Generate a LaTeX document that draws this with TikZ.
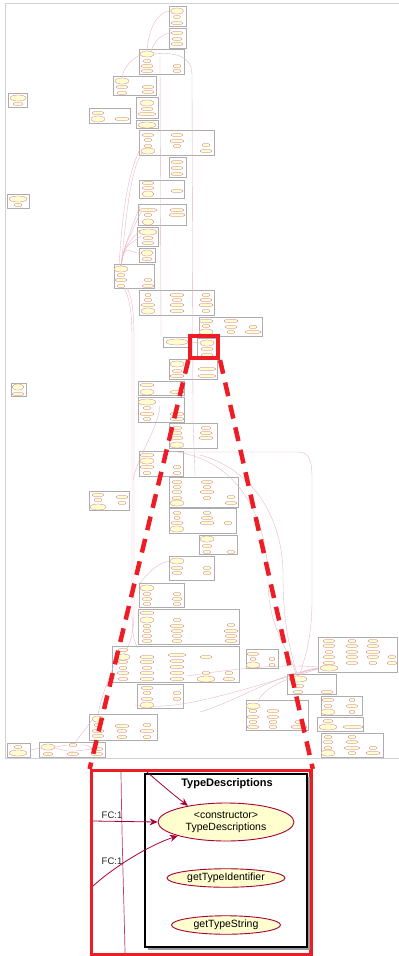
\documentclass[tikz,border=0pt]{standalone}
\usepackage{fontspec}
\setmainfont{Liberation Sans}
\usetikzlibrary{positioning,arrows.meta,shapes.geometric}
\definecolor{umlred}{HTML}{A80036}
\definecolor{umlyel}{HTML}{FEFECE}
\definecolor{zred}{HTML}{EE1C24}
\tikzset{
  sheet/.style={draw=black!18,line width=0.8pt},
  pkg/.style={draw=black!32,line width=0.5pt,fill=white},
  mini/.style={draw=umlred!65,fill=umlyel,line width=0.2pt},
  wire/.style={draw=umlred!30,line width=0.35pt},
  lens/.style={draw=zred,line width=4pt,inner sep=0pt},
  zoomln/.style={draw=zred,line width=4.5pt,dash pattern=on 14pt off 9pt},
  ucase/.style={ellipse,draw=umlred,fill=umlyel,line width=0.9pt,inner sep=0pt,
    align=center,font=\fontsize{10.5}{12.5}\selectfont},
  flow/.style={-{Stealth[length=8pt,width=7pt]},draw=umlred,line width=0.8pt},
  mult/.style={font=\fontsize{9.5}{11}\selectfont,text=black!85},
}
% one small class box of the overview, with its shadow
\newcommand{\pk}[4]{%
  \fill[black!15] (#1+1,#2+1) rectangle (#3+1,#4+1);
  \filldraw[pkg] (#1,#2) rectangle (#3,#4);}

\begin{document}
\begin{tikzpicture}[x=1pt,y=-1pt]
  \useasboundingbox (0,0) rectangle (399,956);

  % ---- overview ----
  \draw[sheet] (402,3) -- (5,3) -- (5,758) -- (402,758);
  \foreach \a/\b/\c/\d in {169/6/186/26, 169/28/186/48, 139/49/184/74, 113/76/156/95,
      136/97/158/118, 89/108/130/123, 136/120/158/128, 139/130/214/155, 169/157/186/177,
      139/180/184/198, 8/93/27/107, 7/194/29/208, 138/204/186/225, 137/227/158/246,
      139/248/155/262, 114/264/154/288, 139/290/214/315, 199/317/262/336, 163/337/188/347,
      197/338/216/358, 169/359/217/379, 138/381/184/395, 138/397/184/422, 169/423/217/448,
      139/451/183/476, 169/477/238/507, 169/508/236/533, 199/535/237/554, 169/556/214/580,
      11/383/26/396, 89/491/129/510, 139/583/184/607, 138/609/239/644, 112/646/239/682,
      137/684/183/708, 89/714/157/740, 39/742/105/757, 7/743/30/757, 318/637/397/672,
      246/649/278/668, 287/674/336/694, 246/700/308/730, 321/696/362/715, 317/717/363/731,
      321/733/383/757}
    \pk{\a}{\b}{\c}{\d};

  \draw[wire] (147,51) .. controls (149,26) and (158,12) .. (170,11);
  \draw[wire] (151,51) .. controls (155,40) and (162,34) .. (170,33);
  \draw[wire] (140,55) .. controls (130,60) and (123,69) .. (122,78);
  \draw[wire] (154,54) .. controls (176,52) and (192,56) .. (192,75) -- (193,420)
    .. controls (194,450) and (195,465) .. (195,477);
  \draw[wire] (160,57) -- (161,337);
  \draw[wire] (188,342) -- (200,343);
  \foreach \tx/\ty in {140/206, 141/212, 140/230, 141/236, 140/254}
    \draw[wire] (121,266) .. controls (124,248) .. (\tx,\ty);
  \draw[wire] (121,266) .. controls (126,220) and (130,170) .. (142,153);
  \draw[wire] (119,266) .. controls (122,220) and (126,180) .. (139,151);
  \draw[wire] (124,288) .. controls (131,300) and (132,320) .. (132,340) -- (132,610)
    .. controls (132,635) and (134,642) .. (138,648);
  \draw[wire] (127,288) .. controls (133,298) and (134,318) .. (134,340) -- (134,612)
    .. controls (134,640) and (127,648) .. (124,654);
  \draw[wire] (133,480) .. controls (140,450) and (158,430) .. (160,405);
  \draw[wire] (140,583) .. controls (150,570) and (160,562) .. (170,561);
  \draw[wire] (180,452) -- (298,452) .. controls (310,452) and (312,462) .. (312,478)
    -- (312,600) .. controls (312,640) and (304,660) .. (300,674);
  \draw[wire] (170,451) .. controls (240,458) and (268,520) .. (268,580)
    .. controls (268,630) and (290,650) .. (296,674);
  \draw[wire] (200,455) .. controls (255,470) and (283,520) .. (283,575)
    .. controls (283,630) and (292,655) .. (297,674);
  \draw[wire] (186,676) .. controls (240,668) and (280,664) .. (318,667);
  \draw[wire] (135,705) .. controls (180,712) and (240,690) .. (318,668);
  \draw[wire] (200,712) .. controls (240,700) and (280,672) .. (318,669);
  \draw[wire] (318,668) .. controls (305,670) .. (298,676);
  \draw[wire] (318,669) .. controls (280,680) and (262,690) .. (258,702);
  \draw[wire] (117,658) .. controls (108,680) and (100,700) .. (98,716);
  \draw[wire] (92,720) .. controls (85,730) and (78,738) .. (75,743);
  \draw[wire] (55,747) -- (67,745);
  \draw[wire] (55,748) .. controls (70,752) .. (91,749);
  \draw[wire] (30,750) -- (41,748);
  \draw[wire] (80,745) .. controls (88,745) .. (91,748);

  \foreach \x/\y/\r in {177/17/3.5, 177/23/6, 177/33/6, 177/39/5, 177/44/6,
      147/61/4, 147/66/6, 147/71/6, 177/66/4, 177/71/4, 122/87/6, 122/93/5, 148/87/6,
      148/92/6, 147/109/6, 147/114/9, 98/113/6, 122/119/7, 148/135/6, 148/140/4,
      148/146/4, 177/135/6, 177/141/7, 177/146/4, 206/145/4, 206/151/6, 177/162/6,
      177/168/6, 177/174/6, 148/183/6, 148/188/6, 177/191/6, 18/104/5, 18/205/4,
      148/210/9, 148/215/4, 177/210/7, 177/215/8, 148/238/5, 148/243/6, 147/259/5,
      121/275/4, 121/280/6, 121/286/4, 148/280/4, 148/286/6, 148/295/3, 148/300/4,
      148/305/7, 177/295/7, 177/300/5, 177/305/7, 177/311/7, 206/295/4, 206/300/6,
      206/305/7, 206/311/4, 206/321/7, 206/326/4, 231/321/7, 231/327/6, 231/332/4,
      253/327/4, 253/332/8, 207/349/6, 207/355/6, 177/371/5, 177/376/7, 207/369/9,
      207/376/9, 147/385/7, 177/392/7, 147/408/4, 147/414/7, 147/419/4, 177/414/7,
      177/419/7, 177/428/5, 177/433/5, 177/438/6, 206/428/5, 206/433/6, 206/438/7,
      147/455/7, 147/467/7, 147/473/4, 177/467/4, 177/473/4, 177/482/5, 177/487/4,
      177/492/5, 177/498/5, 207/482/6, 207/487/4, 207/492/7, 207/498/4, 231/497/4,
      231/503/6, 177/513/4, 177/518/3, 177/523/6, 207/513/4, 207/518/6, 207/523/7,
      228/523/4, 207/546/5, 207/552/4, 231/552/4, 177/568/6, 177/573/5, 207/568/4,
      207/573/4, 18/394/6, 98/495/6, 98/500/4, 122/497/6, 122/503/4, 147/594/4,
      147/599/5, 147/604/4, 177/594/4, 177/599/5, 177/604/4, 147/613/7, 147/626/4,
      147/631/4, 147/636/5, 147/641/5, 177/620/4, 177/626/7, 177/631/6, 177/636/5,
      177/641/5, 231/625/4, 231/631/7, 231/636/6, 231/641/6, 123/650/5, 123/662/5,
      123/668/4, 123/673/6, 123/679/5, 147/657/7, 147/662/7, 147/668/5, 147/673/7,
      147/679/7, 177/655/9, 177/661/7, 177/667/7, 177/673/7, 177/679/7, 206/657/6,
      206/673/4, 229/673/4, 229/679/6, 147/688/6, 147/693/4, 147/699/6, 177/693/4,
      177/699/4, 98/725/4, 98/731/6, 98/736/6, 122/726/7, 122/731/5, 122/737/5,
      147/725/4, 147/731/7, 147/737/4, 48/754/5, 73/745/4, 73/754/6, 97/749/6,
      97/754/6, 18/747/4, 329/641/6, 329/646/6, 329/652/4, 329/657/6, 329/663/6,
      352/641/4, 352/646/6, 352/652/6, 352/657/6, 352/663/6, 373/641/5, 373/646/6,
      373/652/7, 373/657/6, 373/663/4, 392/657/4, 392/663/5, 253/654/6, 253/659/3,
      272/659/3, 272/665/3, 298/686/6, 298/692/5, 327/692/6, 253/711/4, 253/717/6,
      253/722/4, 253/727/6, 273/711/6, 273/717/6, 273/722/4, 273/727/4, 299/722/4,
      299/727/8, 328/700/6, 328/706/4, 352/700/3, 352/706/6, 352/712/3, 328/721/5,
      353/727/10, 328/737/4, 328/742/5, 328/748/4, 352/737/4, 352/742/6, 352/748/8,
      352/753/4, 373/748/4, 373/753/7}
    \draw[mini] (\x,\y) ellipse ({\r} and 1.8);
  % two-line (constructor) ellipses
  \foreach \x/\y/\r in {177/11/6.5, 147/54/7, 122/81/7, 147/103/7, 98/119/7, 147/125/9,
      148/151/7, 148/194/6, 18/98/8, 18/199/9, 148/222/6, 148/232/9, 147/253/6,
      121/269/7, 148/311/7, 206/332/7, 177/342/11, 207/343/7, 177/364/7, 147/392/7,
      147/402/9, 177/445/7, 147/461/7, 177/503/7, 177/529/7, 207/539/7, 177/561/7,
      18/387/6, 98/507/8, 147/588/7, 147/620/7, 123/657/7, 206/679/9, 147/705/7,
      98/719/6, 48/747/7, 18/753/9, 329/668/9, 253/665/7, 298/679/9, 253/706/7,
      328/712/7, 328/727/9, 328/753/7}
    \draw[mini] (\x,\y) ellipse ({\r} and 3);

  % ---- magnifier ----
  \node[lens,minimum width=27.7pt,minimum height=21.7pt] (lens) at (204.2,347.2) {};
  \node[draw=zred,line width=3.5pt,inner sep=0pt,minimum width=219.7pt,
    minimum height=184pt] (inset) at (201.2,862.7) {};
  \draw[zoomln] (lens.south west) -- (inset.north west);
  \draw[zoomln] (lens.south east) -- (inset.north east);

  % ---- enlarged TypeDescriptions ----
  \fill[black!40] (148,777) rectangle (310,950);
  \draw[line width=1.1pt,fill=white] (145,774) rectangle (307,947);
  \node[font=\bfseries\fontsize{11}{13}\selectfont] (tdname) at (227,784) {TypeDescriptions};
  \node[ucase,minimum width=136pt,minimum height=38pt] (te) at (226,822)
    {<constructor>\\TypeDescriptions};
  \node[ucase,minimum width=118pt,minimum height=18.5pt] (gid) at (226,878) {getTypeIdentifier};
  \node[ucase,minimum width=109pt,minimum height=18.5pt] (gts) at (226,925) {getTypeString};

  \coordinate (vt) at (121,772);
  \coordinate (vb) at (125,953);
  \coordinate (a1) at (147,772);
  \coordinate (a2) at (93,821);
  \coordinate (a3) at (93,886);
  \begin{scope}
    \clip (inset.south west) rectangle (inset.north east);
    \draw[draw=umlred!75,line width=0.7pt] (vt) .. controls (122,850) and (124,900) .. (vb);
    \draw[flow] (a1) .. controls (162,785) and (175,796) .. (te.157);
    \draw[flow] (a2) -- (te.west);
    \draw[flow] (a3) .. controls (115,866) and (150,845) .. (te.196);
  \end{scope}
  \node[mult] (m1) at (112,815) {FC:1};
  \node[mult] (m2) at (112,861) {FC:1};
\end{tikzpicture}
\end{document}
